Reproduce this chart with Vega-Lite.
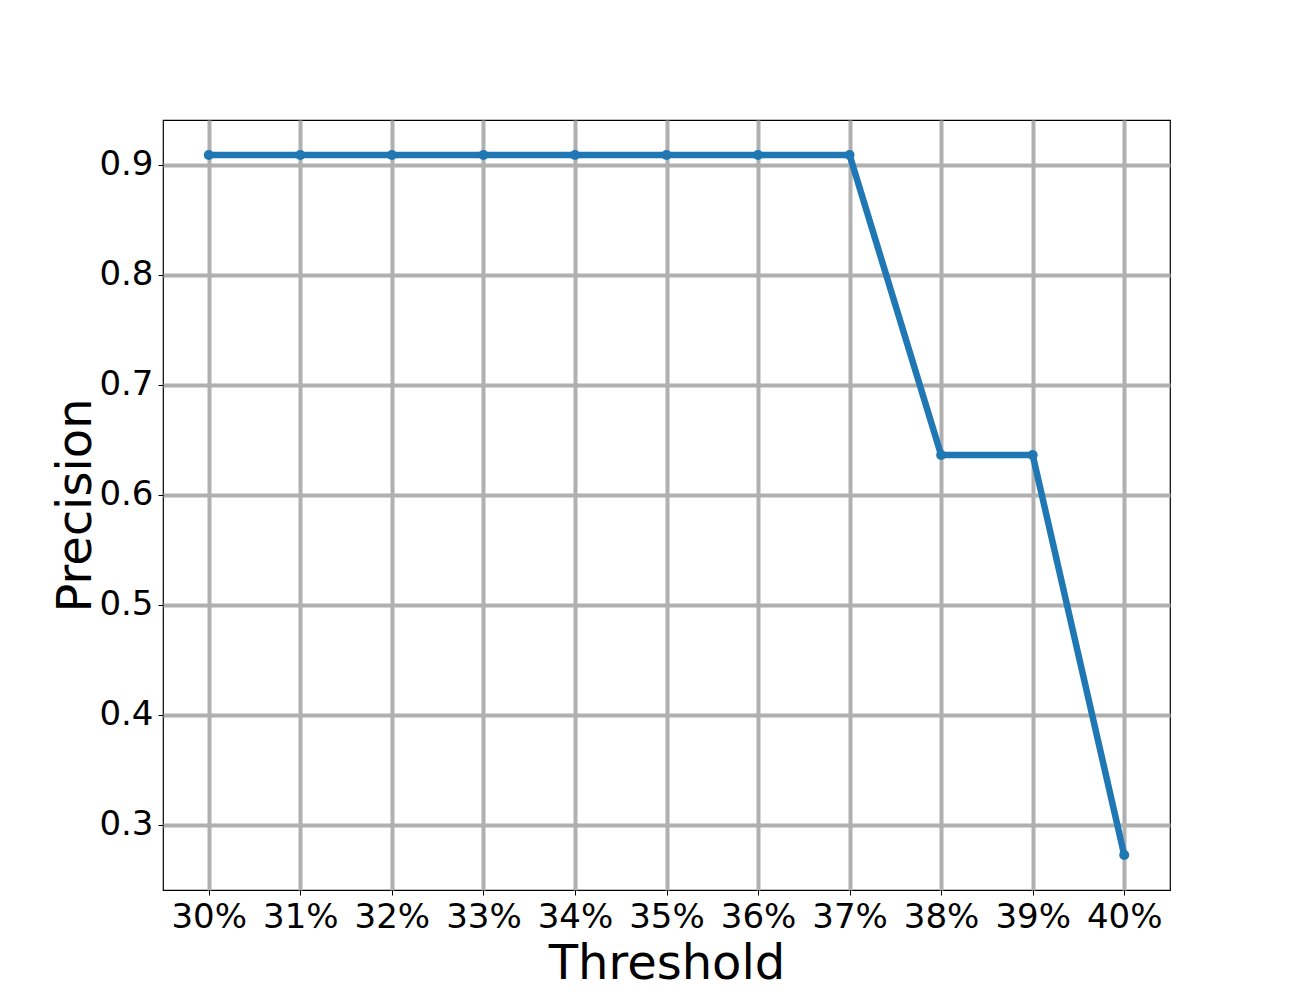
{
  "$schema": "https://vega.github.io/schema/vega-lite/v6.json",
  "width": 1007,
  "height": 770,
  "autosize": "none",
  "padding": {"left": 163, "top": 120, "right": 130, "bottom": 110},
  "background": "white",
  "config": {
    "view": {"stroke": "black", "strokeWidth": 1.2},
    "font": "DejaVu Sans",
    "axis": {
      "labelFont": "DejaVu Sans",
      "titleFont": "DejaVu Sans",
      "labelFontSize": 34,
      "titleFontSize": 48,
      "titleFontWeight": "normal",
      "labelColor": "black",
      "titleColor": "black",
      "tickColor": "black",
      "tickWidth": 1,
      "tickSize": 5,
      "labelPadding": 5,
      "domain": false,
      "grid": true,
      "gridColor": "#b0b0b0",
      "gridWidth": 4,
      "gridOpacity": 1
    }
  },
  "data": {
    "values": [
      {"threshold": 30, "precision": 0.9091},
      {"threshold": 31, "precision": 0.9091},
      {"threshold": 32, "precision": 0.9091},
      {"threshold": 33, "precision": 0.9091},
      {"threshold": 34, "precision": 0.9091},
      {"threshold": 35, "precision": 0.9091},
      {"threshold": 36, "precision": 0.9091},
      {"threshold": 37, "precision": 0.9091},
      {"threshold": 38, "precision": 0.6364},
      {"threshold": 39, "precision": 0.6364},
      {"threshold": 40, "precision": 0.2727}
    ]
  },
  "mark": {"type": "line", "color": "#1f77b4", "strokeWidth": 6.5, "point": {"filled": true, "size": 100, "color": "#1f77b4", "opacity": 1}},
  "encoding": {
    "x": {
      "field": "threshold",
      "type": "quantitative",
      "scale": {"domain": [29.5, 40.5], "nice": false, "zero": false},
      "axis": {
        "title": "Threshold",
        "values": [30, 31, 32, 33, 34, 35, 36, 37, 38, 39, 40],
        "labelExpr": "datum.value + '%'",
        "labelFlush": false,
        "labelOverlap": false,
        "titleBaseline": "alphabetic",
        "titleY": 88
      }
    },
    "y": {
      "field": "precision",
      "type": "quantitative",
      "scale": {"domain": [0.2409, 0.9409], "nice": false, "zero": false},
      "axis": {
        "title": "Precision",
        "values": [0.3, 0.4, 0.5, 0.6, 0.7, 0.8, 0.9],
        "format": ".1f",
        "labelFlush": false,
        "labelOverlap": false,
        "titleBaseline": "alphabetic",
        "titleX": -73
      }
    }
  }
}
